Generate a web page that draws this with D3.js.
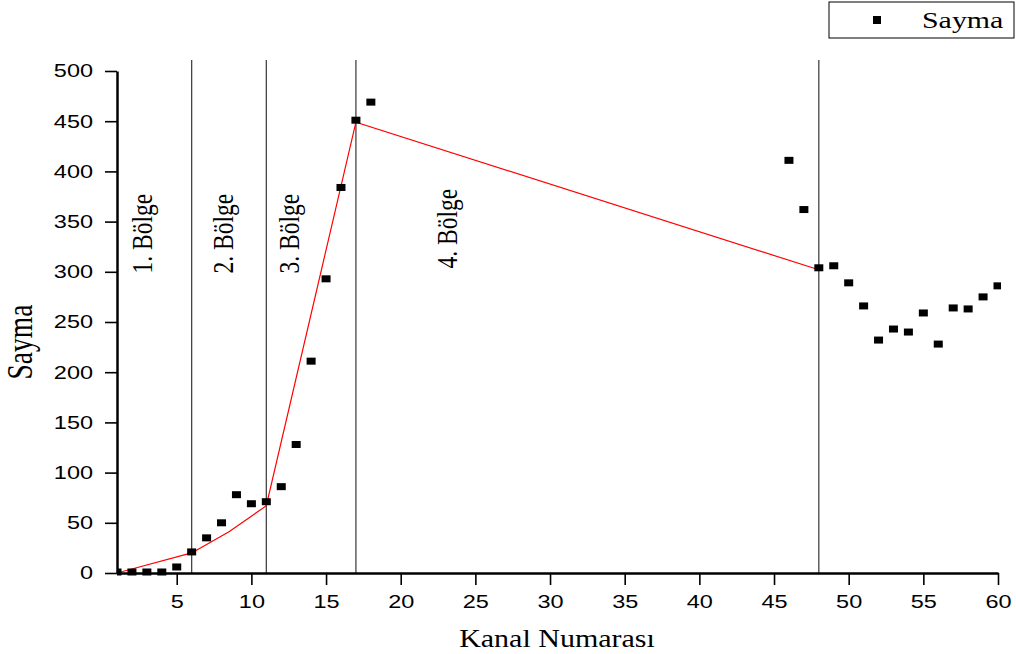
<!DOCTYPE html>
<html>
<head>
<meta charset="utf-8">
<script src="https://cdn.jsdelivr.net/npm/d3@7"></script>
<style>
  body { margin: 0; background: #fff; }
</style>
</head>
<body>
<script>
// data
var channels = [1, 2, 3, 4, 5, 6, 7, 8, 9, 10, 11, 12, 13, 14, 15, 16, 17, 18,
                46, 47, 48, 49, 50, 51, 52, 53, 54, 55, 56, 57, 58, 59, 60];
var counts = [1, 1, 1, 1, 6, 21, 35, 50, 78, 69, 71, 86, 128, 211, 293, 384, 451, 469,
              411, 362, 304, 306, 289, 266, 232, 243, 240, 259, 228, 264, 263, 275, 286];

// red fit line through the region borders
var fitX = [1, 6, 8.5, 11, 17, 48];
var fitY = [0, 20, 41, 67, 449, 302];

// region borders and labels (label anchors in data units)
var borders = [6, 11, 17, 48];
var regionNames = ['1. Bölge', '2. Bölge', '3. Bölge', '4. Bölge'];
var regionX = [2.67, 8.1, 12.5, 23.1];
var regionY = [338, 338, 338, 343];

var xTicks = [5, 10, 15, 20, 25, 30, 35, 40, 45, 50, 55, 60];
var yTicks = [0, 50, 100, 150, 200, 250, 300, 350, 400, 450, 500];

var width = 1016;
var height = 654;
var stretch = 1.27; // text in the picture is a bit wider than normal

var svg = d3.select('body').append('svg')
            .attr('width', width)
            .attr('height', height);

var x = d3.scaleLinear().domain([1, 60]).range([117, 998]);
var y = d3.scaleLinear().domain([0, 500]).range([573, 71]);

svg.append('clipPath').attr('id', 'plot')
   .append('rect')
   .attr('x', 117).attr('y', 40)
   .attr('width', 884).attr('height', 540);

var plot = svg.append('g').attr('clip-path', 'url(#plot)');

// vertical region borders
plot.selectAll('line.border')
    .data(borders)
    .enter().append('line')
    .attr('class', 'border')
    .attr('x1', function(d) { return x(d); })
    .attr('x2', function(d) { return x(d); })
    .attr('y1', 60)
    .attr('y2', y(0))
    .style('stroke', '#444')
    .style('stroke-width', 1.3);

// fit line
var fit = fitX.map(function(d, i) { return [d, fitY[i]]; });
plot.append('path')
    .datum(fit)
    .attr('d', d3.line()
      .x(function(d) { return x(d[0]); })
      .y(function(d) { return y(d[1]); }))
    .style('fill', 'none')
    .style('stroke', '#f00')
    .style('stroke-width', 1.2);

// points
plot.selectAll('rect.pt')
    .data(channels)
    .enter().append('rect')
    .attr('class', 'pt')
    .attr('x', function(d) { return x(d) - 4.5; })
    .attr('y', function(d, i) { return y(counts[i]) - 3.5; })
    .attr('width', 9)
    .attr('height', 7)
    .style('fill', '#000');

// region labels
svg.selectAll('text.region')
   .data(regionNames)
   .enter().append('text')
   .attr('class', 'region')
   .attr('transform', function(d, i) {
     return 'translate(' + x(regionX[i]) + ',' + y(regionY[i]) + ') scale(' + stretch + ',1) rotate(-90)';
   })
   .attr('text-anchor', 'middle')
   .attr('dominant-baseline', 'central')
   .style('font-family', 'Liberation Serif')
   .style('font-size', '23.5px')
   .text(function(d) { return d; });

// axes
var xAxis = svg.append('g').attr('transform', 'translate(0,' + y(0) + ')');
xAxis.call(d3.axisBottom(x).tickValues(d3.range(2.5, 60.1, 2.5)).tickSize(6).tickFormat(''));
xAxis.call(d3.axisBottom(x).tickValues(xTicks).tickSize(12).tickSizeOuter(0).tickPadding(10));

var yAxis = svg.append('g').attr('transform', 'translate(' + x(1) + ',0)');
yAxis.call(d3.axisLeft(y).tickValues(d3.range(25, 500, 50)).tickSize(6).tickFormat(''));
yAxis.call(d3.axisLeft(y).tickValues(yTicks).tickSize(12).tickSizeOuter(0).tickPadding(12));

svg.selectAll('.domain').style('stroke', '#000').style('stroke-width', 2.5);
svg.selectAll('.tick line').style('stroke', '#000').style('stroke-width', 1.6);
svg.selectAll('.tick text')
   .style('font-family', 'Liberation Sans')
   .style('font-size', '18.5px')
   .style('fill', '#000')
   .attr('transform', 'scale(' + stretch + ',1)');
yAxis.selectAll('.tick text').attr('x', -24 / stretch);

// axis titles
svg.append('text')
   .attr('transform', 'translate(557,647) scale(1.2,1)')
   .attr('text-anchor', 'middle')
   .style('font-family', 'Liberation Serif')
   .style('font-size', '25px')
   .text('Kanal Numarası');

svg.append('text')
   .attr('transform', 'translate(20,342) scale(' + stretch + ',1) rotate(-90)')
   .attr('text-anchor', 'middle')
   .attr('dominant-baseline', 'central')
   .style('font-family', 'Liberation Serif')
   .style('font-size', '27.5px')
   .text('Sayma');

// legend
var legend = svg.append('g');
legend.append('rect')
      .attr('x', 829).attr('y', 2)
      .attr('width', 185).attr('height', 36)
      .style('fill', '#fff')
      .style('stroke', '#000')
      .style('stroke-width', 1);
legend.append('rect')
      .attr('x', 873).attr('y', 16)
      .attr('width', 8).attr('height', 8)
      .style('fill', '#000');
legend.append('text')
      .attr('transform', 'translate(922,28) scale(1.3,1)')
      .style('font-family', 'Liberation Serif')
      .style('font-size', '23px')
      .text('Sayma');
</script>
</body>
</html>
